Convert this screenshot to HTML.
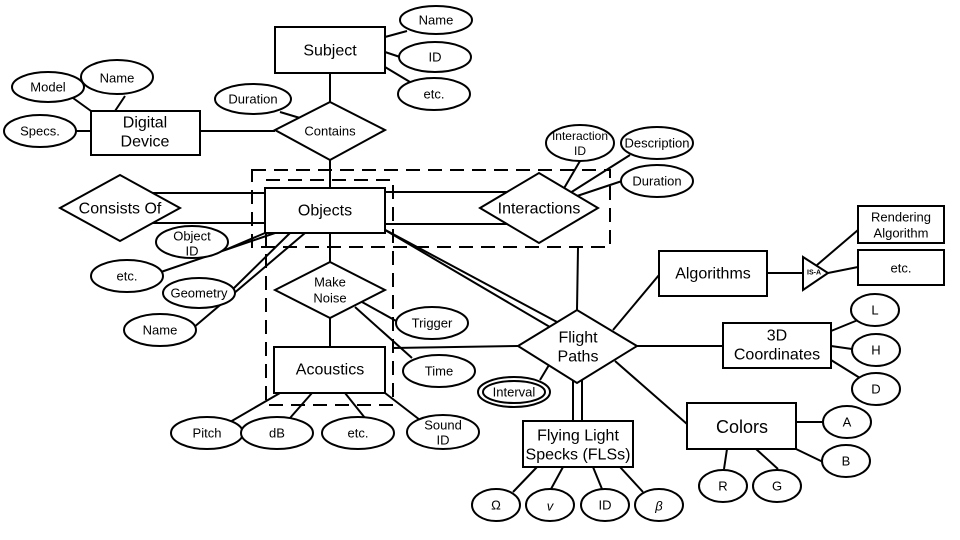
<!DOCTYPE html>
<html><head><meta charset="utf-8"><style>html,body{margin:0;padding:0;background:#fff}svg{display:block}text{font-family:"Liberation Sans",Arial,sans-serif;fill:#000;text-anchor:middle;dominant-baseline:central}</style></head><body>
<svg width="960" height="540" viewBox="0 0 960 540" xmlns="http://www.w3.org/2000/svg">
<g stroke="#000" stroke-width="2" fill="none">
<!-- connectors -->
<line x1="385" y1="37" x2="407" y2="31"/><line x1="385" y1="52" x2="400" y2="57"/><line x1="385" y1="67" x2="410" y2="82"/>
<line x1="330" y1="73" x2="330" y2="102"/>
<line x1="200" y1="131" x2="275" y2="131"/>
<line x1="280" y1="112" x2="300" y2="118"/>
<line x1="73" y1="98" x2="91" y2="111"/><line x1="125" y1="96" x2="115" y2="111"/><line x1="76" y1="131" x2="91" y2="131"/>
<line x1="330" y1="160" x2="330" y2="188"/>
<line x1="152" y1="193" x2="265" y2="193"/><line x1="152" y1="223" x2="265" y2="223"/>
<line x1="385" y1="192" x2="510" y2="192"/><line x1="385" y1="224" x2="510" y2="224"/>
<line x1="265" y1="233" x2="225" y2="250"/>
<line x1="275" y1="233" x2="158" y2="273"/>
<line x1="290" y1="233" x2="232" y2="290"/>
<line x1="305" y1="233" x2="193" y2="328"/>
<line x1="330" y1="233" x2="330" y2="262"/>
<line x1="330" y1="318" x2="330" y2="347"/>
<line x1="362" y1="302" x2="398" y2="322"/><line x1="355" y1="307" x2="412" y2="358"/>
<line x1="280" y1="393" x2="230" y2="422"/><line x1="312" y1="393" x2="290" y2="418"/><line x1="345" y1="393" x2="365" y2="418"/><line x1="385" y1="393" x2="420" y2="420"/>
<line x1="563" y1="190" x2="580" y2="161"/><line x1="570" y1="193" x2="630" y2="155"/><line x1="577" y1="196" x2="622" y2="181"/>
<line x1="385" y1="230" x2="555" y2="330"/><line x1="378" y1="226" x2="557" y2="322"/>
<line x1="393" y1="348" x2="518" y2="346"/>
<line x1="578" y1="248" x2="577" y2="310"/>
<line x1="613" y1="330" x2="659" y2="275"/>
<line x1="637" y1="346" x2="723" y2="346"/>
<line x1="615" y1="361" x2="687" y2="424"/>
<line x1="549" y1="365" x2="540" y2="380"/>
<line x1="573" y1="378" x2="573" y2="421"/><line x1="582" y1="378" x2="582" y2="421"/>
<line x1="767" y1="273" x2="803" y2="273"/><line x1="817" y1="265" x2="858" y2="230"/><line x1="828" y1="273" x2="858" y2="267"/>
<line x1="831" y1="331" x2="858" y2="320"/><line x1="831" y1="346" x2="852" y2="349"/><line x1="831" y1="360" x2="860" y2="378"/>
<line x1="796" y1="422" x2="823" y2="422"/><line x1="796" y1="449" x2="823" y2="462"/>
<line x1="727" y1="449" x2="724" y2="469"/><line x1="756" y1="449" x2="778" y2="469"/>
<line x1="537" y1="467" x2="513" y2="492"/><line x1="563" y1="467" x2="551" y2="489"/><line x1="593" y1="467" x2="602" y2="489"/><line x1="620" y1="467" x2="643" y2="492"/>
<!-- dashed boxes -->
<rect x="252" y="170" width="358" height="77" stroke-dasharray="14,8"/>
<rect x="266" y="180" width="127" height="225" stroke-dasharray="14,8"/>
</g>
<g stroke="#000" stroke-width="2" fill="#fff">
<rect x="275" y="27" width="110" height="46"/>
<rect x="91" y="111" width="109" height="44"/>
<rect x="265" y="188" width="120" height="45"/>
<rect x="274" y="347" width="111" height="46"/>
<rect x="659" y="251" width="108" height="45"/>
<rect x="858" y="206" width="86" height="37"/>
<rect x="858" y="250" width="86" height="35"/>
<rect x="723" y="323" width="108" height="45"/>
<rect x="687" y="403" width="109" height="46"/>
<rect x="523" y="421" width="110" height="46"/>
<polygon points="275,130 330,102 385,130 330,160"/>
<polygon points="60,208 120,175 180,208 120,241"/>
<polygon points="480,208 539,173 598,208 539,243"/>
<polygon points="275,290 330,262 385,290 330,318"/>
<polygon points="518,346 577,310 637,346 577,383"/>
<polygon points="803,257 828,273 803,290"/>
<ellipse cx="436" cy="20" rx="36" ry="14"/><ellipse cx="435" cy="57" rx="36" ry="15"/><ellipse cx="434" cy="94" rx="36" ry="16"/>
<ellipse cx="48" cy="87" rx="36" ry="15"/><ellipse cx="117" cy="77" rx="36" ry="17"/><ellipse cx="40" cy="131" rx="36" ry="16"/>
<ellipse cx="253" cy="99" rx="38" ry="15"/>
<ellipse cx="192" cy="242" rx="36" ry="16"/><ellipse cx="127" cy="276" rx="36" ry="16"/><ellipse cx="199" cy="293" rx="36" ry="15"/><ellipse cx="160" cy="330" rx="36" ry="16"/>
<ellipse cx="432" cy="323" rx="36" ry="16"/><ellipse cx="439" cy="371" rx="36" ry="16"/>
<ellipse cx="207" cy="433" rx="36" ry="16"/><ellipse cx="277" cy="433" rx="36" ry="16"/><ellipse cx="358" cy="433" rx="36" ry="16"/><ellipse cx="443" cy="432" rx="36" ry="17"/>
<ellipse cx="580" cy="143" rx="34" ry="18"/><ellipse cx="657" cy="143" rx="36" ry="16"/><ellipse cx="657" cy="181" rx="36" ry="16"/>
<ellipse cx="514" cy="392" rx="36" ry="15"/><ellipse cx="514" cy="392" rx="31" ry="11"/>
<ellipse cx="875" cy="310" rx="24" ry="16"/><ellipse cx="876" cy="350" rx="24" ry="16"/><ellipse cx="876" cy="389" rx="24" ry="16"/>
<ellipse cx="847" cy="422" rx="24" ry="16"/><ellipse cx="846" cy="461" rx="24" ry="16"/>
<ellipse cx="723" cy="486" rx="24" ry="16"/><ellipse cx="777" cy="486" rx="24" ry="16"/>
<ellipse cx="496" cy="505" rx="24" ry="16"/><ellipse cx="550" cy="505" rx="24" ry="16"/><ellipse cx="605" cy="505" rx="24" ry="16"/><ellipse cx="659" cy="505" rx="24" ry="16"/>
</g>
<g font-size="16">
<text x="330" y="51">Subject</text>
<text x="145" y="123">Digital</text><text x="145" y="142">Device</text>
<text x="325" y="211">Objects</text>
<text x="120" y="209">Consists Of</text>
<text x="539" y="209">Interactions</text>
<text x="330" y="370">Acoustics</text>
<text x="713" y="274">Algorithms</text>
<text x="777" y="336">3D</text><text x="777" y="355">Coordinates</text>
<text x="742" y="427" font-size="18">Colors</text>
<text x="578" y="436">Flying Light</text><text x="578" y="455">Specks (FLSs)</text>
<text x="578" y="338">Flight</text><text x="578" y="357">Paths</text>
</g>
<g font-size="13">
<text x="436" y="20">Name</text><text x="435" y="57">ID</text><text x="434" y="94">etc.</text>
<text x="48" y="87">Model</text><text x="117" y="78">Name</text><text x="40" y="131">Specs.</text>
<text x="253" y="99">Duration</text><text x="330" y="131">Contains</text>
<text x="192" y="236">Object</text><text x="192" y="251">ID</text>
<text x="127" y="276">etc.</text><text x="199" y="293">Geometry</text><text x="160" y="330">Name</text>
<text x="330" y="282">Make</text><text x="330" y="298">Noise</text>
<text x="432" y="323">Trigger</text><text x="439" y="371">Time</text>
<text x="207" y="433">Pitch</text><text x="277" y="433">dB</text><text x="358" y="433">etc.</text>
<text x="443" y="425">Sound</text><text x="443" y="440">ID</text>
<text x="580" y="136" font-size="12">Interaction</text><text x="580" y="151" font-size="12">ID</text>
<text x="657" y="143">Description</text><text x="657" y="181">Duration</text>
<text x="514" y="392">Interval</text>
<text x="901" y="217">Rendering</text><text x="901" y="233">Algorithm</text>
<text x="901" y="268">etc.</text>
<text x="814" y="273" font-size="7" font-weight="bold">IS-A</text>
<text x="875" y="310">L</text><text x="876" y="350">H</text><text x="876" y="389">D</text>
<text x="847" y="422">A</text><text x="846" y="461">B</text><text x="723" y="486">R</text><text x="777" y="486">G</text>
<text x="496" y="505">Ω</text><text x="550" y="506" font-style="italic">v</text><text x="605" y="505">ID</text><text x="659" y="506" font-style="italic">β</text>
</g>
</svg>
</body></html>
